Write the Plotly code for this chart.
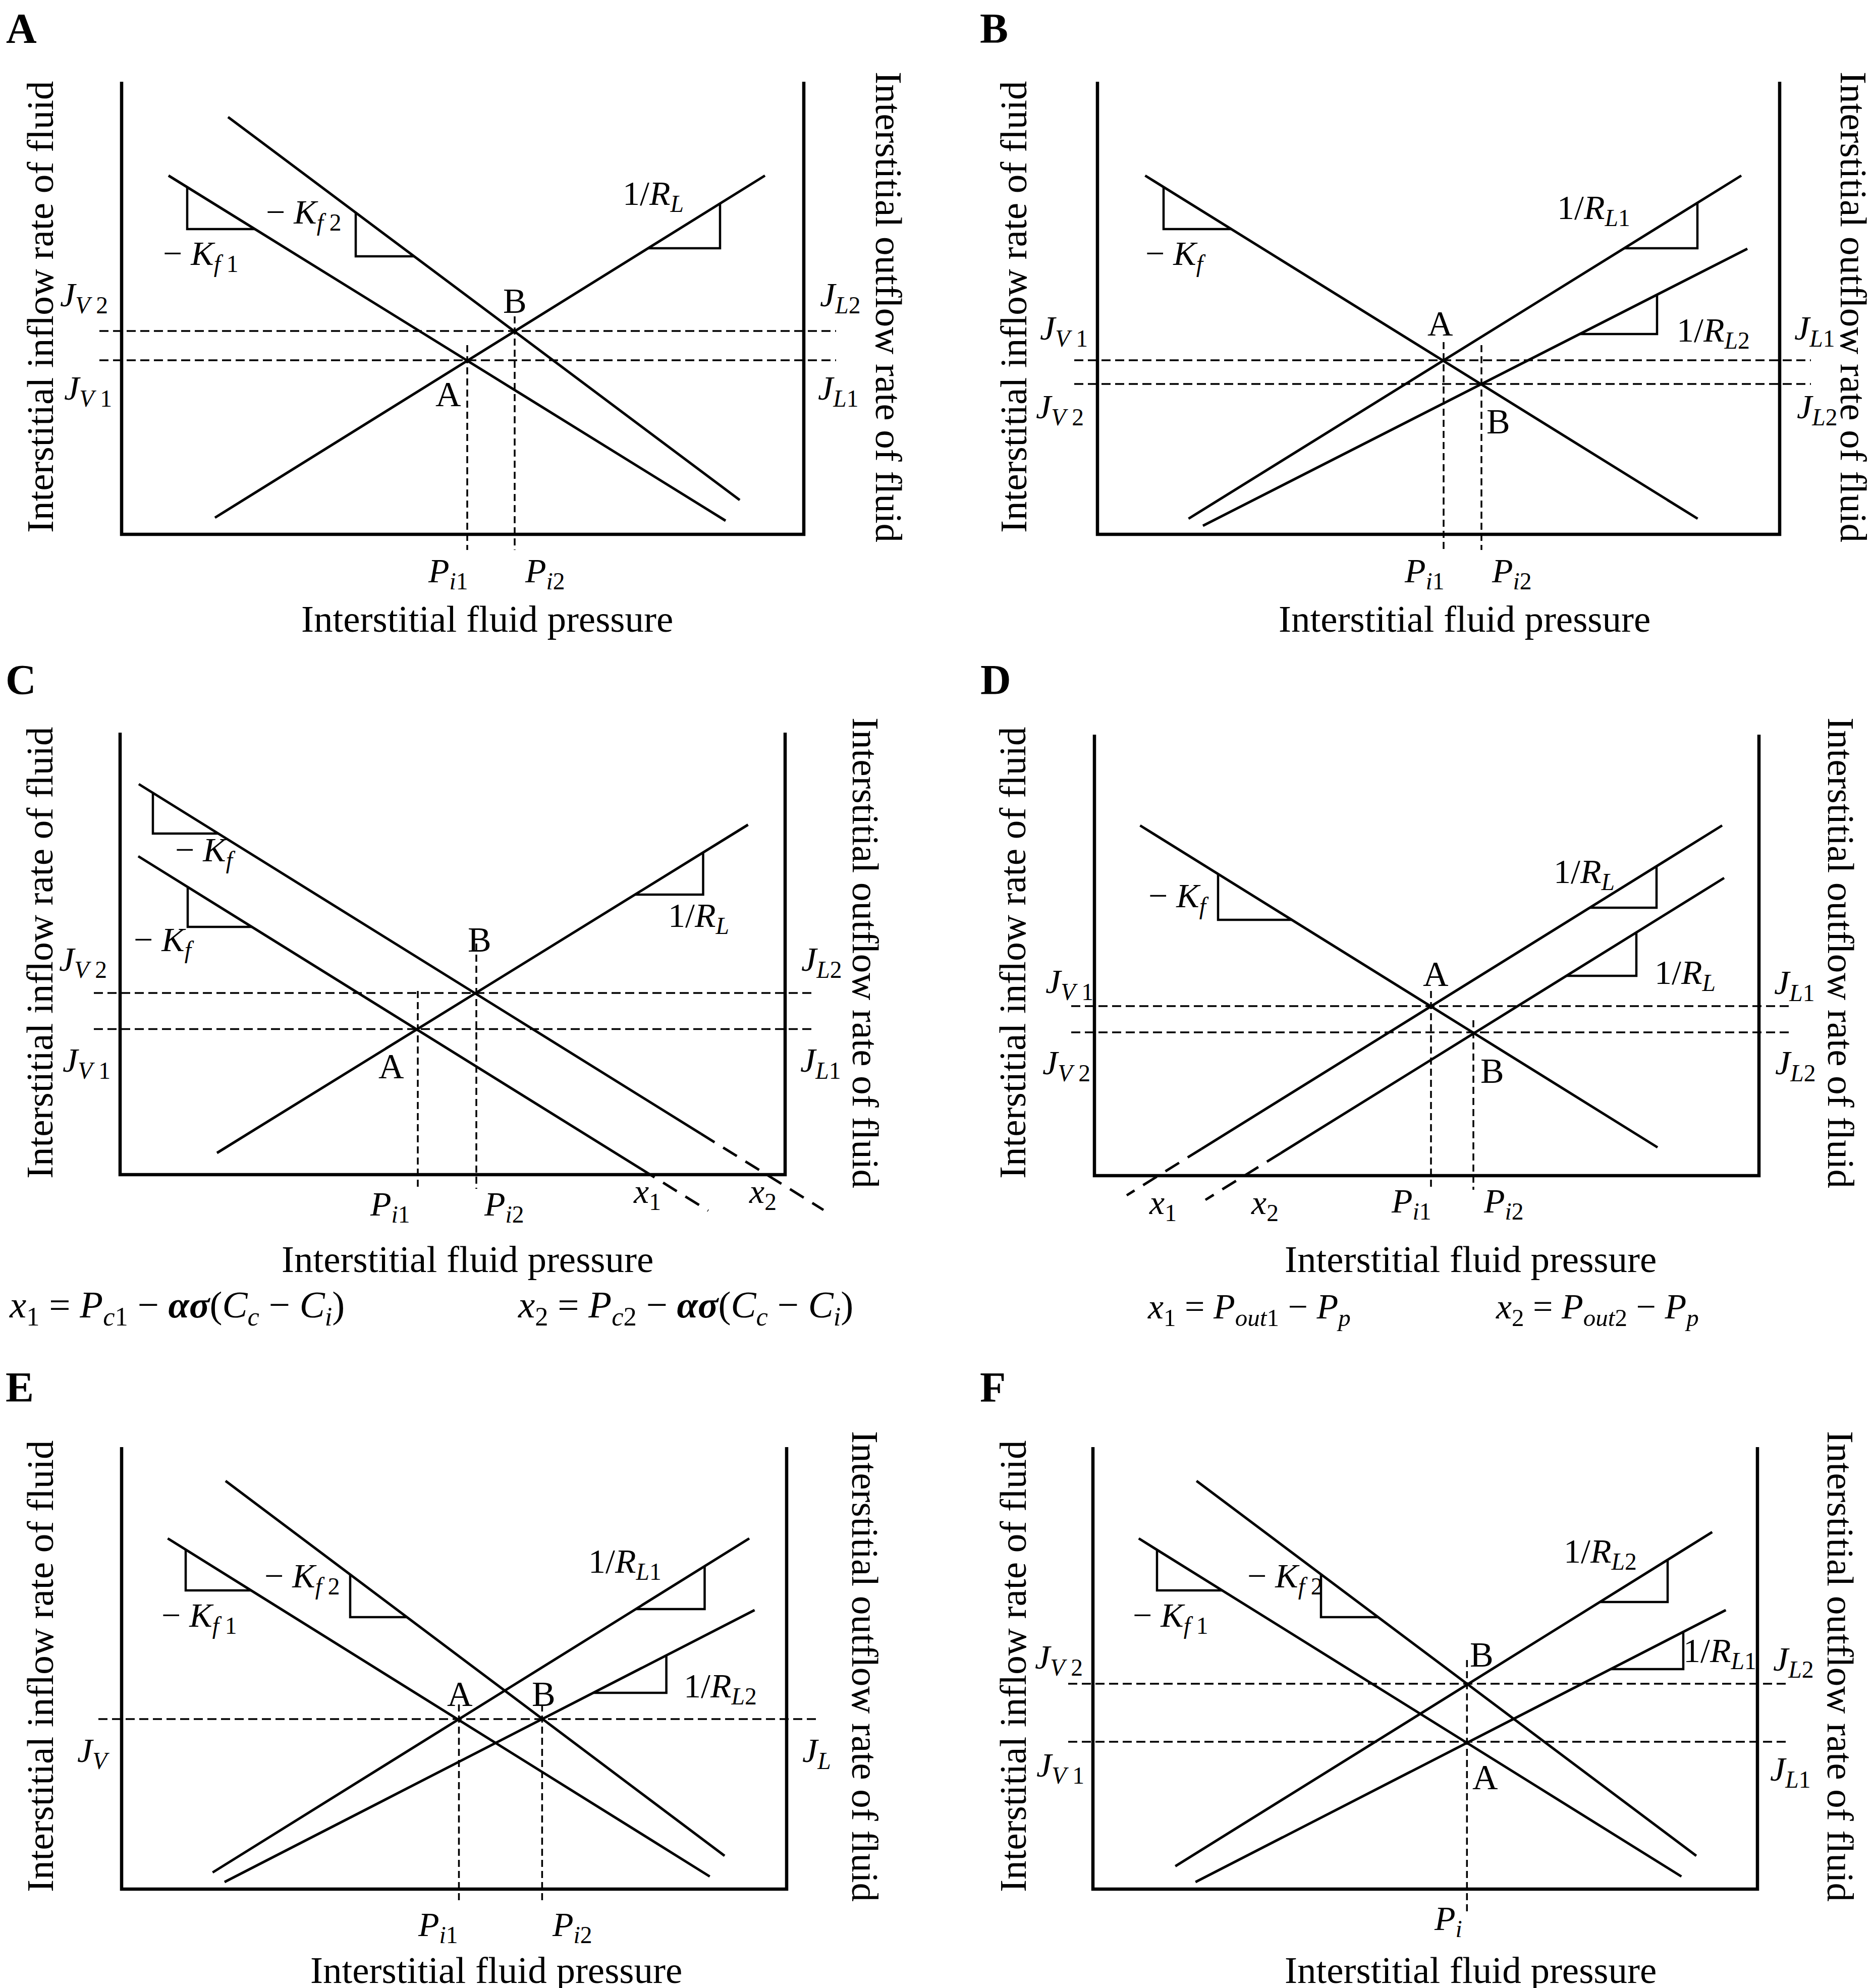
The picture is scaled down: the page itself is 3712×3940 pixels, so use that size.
import plotly.graph_objects as go

FIG_W, FIG_H = 3712, 3940
SERIF = "Liberation Serif, Times New Roman, serif"

X_TITLE = "Interstitial fluid pressure"
Y_LEFT = "Interstitial inflow rate of fluid"
Y_RIGHT = "Interstitial outflow rate of fluid"


def sym(main, it="", num=""):
    """Italic symbol with a subscript (italic letters, upright digits)."""
    s = f"<i>{main}</i>"
    if it or num:
        s += "<sub>" + (f"<i>{it}</i>" if it else "") + num + "</sub>"
    return s


MINUS = "\u2212\u00a0"
KF = MINUS + sym("K", "f")
KF1 = MINUS + sym("K", "f", "\u00a01")
KF2 = MINUS + sym("K", "f", "\u00a02")
RL = "1/" + sym("R", "L")
RL1 = "1/" + sym("R", "L", "1")
RL2 = "1/" + sym("R", "L", "2")
JV, JL = sym("J", "V"), sym("J", "L")
JV1, JV2 = sym("J", "V", "\u00a01"), sym("J", "V", "\u00a02")
JL1, JL2 = sym("J", "L", "1"), sym("J", "L", "2")
PI, PI1, PI2 = sym("P", "i"), sym("P", "i", "1"), sym("P", "i", "2")
X1, X2 = sym("x", "", "1"), sym("x", "", "2")
EQ_C1 = (X1 + " = " + sym("P", "c", "1") + " \u2212 <b><i>\u03b1\u03c3</i></b>("
         + sym("C", "c") + " \u2212 " + sym("C", "i") + ")")
EQ_C2 = (X2 + " = " + sym("P", "c", "2") + " \u2212 <b><i>\u03b1\u03c3</i></b>("
         + sym("C", "c") + " \u2212 " + sym("C", "i") + ")")
EQ_D1 = X1 + " = " + sym("P", "out", "1") + " \u2212 " + sym("P", "p")
EQ_D2 = X2 + " = " + sym("P", "out", "2") + " \u2212 " + sym("P", "p")
EQUATIONS = {EQ_C1: 75, EQ_C2: 75, EQ_D1: 70, EQ_D2: 70}

# ---------------------------------------------------------------------------
# Local coordinates of every panel: origin at the lower left corner of the
# axes box, x = interstitial pressure, y = flow rate (arbitrary units).
# lines: x0, y0, x1, y1 ; slopes: line index, vertical leg x, horizontal leg y
# ---------------------------------------------------------------------------

# Panel A
a_box = [1352, 897]
a_lines = [[93, 711, 1197, 27], [211, 827, 1225, 68], [185, 33, 1275, 711]]
a_flow = [403, 345]
a_flow_span = [-44, 1416]
a_press = [[685, 375], [779, 432]]
a_slopes = [[0, 130, 605], [1, 464, 551], [2, 1186, 567]]
a_text = [[KF1, 157, 545], [KF2, 361, 627], [RL, 1053, 664],
          [JV2, -75, 463], [JV1, -67, 278], [JL2, 1424, 463], [JL1, 1420, 278],
          ["A", 647, 278], ["B", 779, 463], [PI1, 647, -84], [PI2, 839, -84]]

# Panel B
b_box = [1352, 897]
b_lines = [[94.5, 711, 1189.5, 31], [180.5, 31, 1276, 711], [209, 17, 1288, 566]]
b_flow = [345, 298]
b_flow_span = [-46, 1414]
b_press = [[686, 381], [761, 375]]
b_slopes = [[0, 131, 605], [1, 1189, 567], [2, 1109, 397]]
b_text = [[KF, 155, 545], [RL1, 983, 636], [RL2, 1220, 393],
          [JV1, -67, 397], [JV2, -75, 241], [JL1, 1421, 397], [JL2, 1426, 241],
          ["A", 679, 418], ["B", 794, 224], [PI1, 648, -84], [PI2, 821, -84]]

# Panel C
c_box = [1318, 876]
c_lines = [[37, 774, 1394, -70], [36, 631, 1165.6, -71.5], [192, 43, 1244.5, 693.5]]
c_cuts = {0: 1151, 1: 1032}
c_flow = [360, 288.5]
c_flow_span = [-52, 1372]
c_press = [[590, 364], [706, 458]]
c_slopes = [[0, 65, 676], [1, 134, 491], [2, 1155.5, 555]]
c_text = [[KF, 169, 631], [KF, 87, 453], [RL, 1146, 501],
          [JV2, -74, 414], [JV1, -67, 215], [JL2, 1390, 414], [JL1, 1388, 215],
          ["A", 537, 215], ["B", 712, 465], [PI1, 535, -70], [PI2, 761, -70],
          [X1, 1044, -45], [X2, 1273, -45], [EQ_C1, 112, -271], [EQ_C2, 1120, -271]]

# Panel D
d_box = [1317, 874]
d_lines = [[90.5, 694, 1116, 56], [64, -39, 1244, 694], [220, -48, 1248, 590]]
d_cuts = {1: 212, 2: 369}
d_flow = [336, 284]
d_flow_span = [-46, 1379]
d_press = [[667, 366], [751, 308]]
d_slopes = [[0, 245, 507], [1, 1114, 531], [2, 1074, 396]]
d_text = [[KF, 167, 542], [RL, 970, 590], [RL, 1170, 390],
          [JV1, -50, 372], [JV2, -56, 212], [JL1, 1387, 370], [JL2, 1389, 212],
          ["A", 676, 399], ["B", 788, 208], [PI1, 628, -62], [PI2, 811, -62],
          [X1, 135, -65], [X2, 337, -65], [EQ_D1, 306, -273], [EQ_D2, 996, -273]]

# Panel E
e_box = [1318, 876]
e_lines = [[91.4, 695, 1165.6, 25], [206, 809, 1195, 66],
           [180.4, 33, 1244, 695], [204, 14, 1254.5, 553]]
e_flow = [337]
e_flow_span = [-46, 1376]
e_press = [[668.5, 366], [833.4, 366]]
e_slopes = [[0, 127, 592], [1, 453, 539], [2, 1155.5, 555], [3, 1079.6, 389]]
e_text = [[KF1, 154, 531], [KF2, 358, 609], [RL1, 997, 638], [RL2, 1186, 391],
          ["A", 670, 387], ["B", 836, 387], [JV, -56, 263], [JL, 1377, 263],
          [PI1, 627, -82], [PI2, 893, -82]]

# Panel F
f_box = [1317, 876]
f_lines = [[90.8, 695, 1166.3, 25], [205.3, 809, 1195.8, 66],
           [163.3, 45.3, 1227.3, 707.6], [203.3, 14, 1254.3, 553]]
f_flow = [407, 292]
f_flow_span = [-49, 1376]
f_press = [[741.3, 454]]
f_slopes = [[0, 127, 592], [1, 452, 539], [2, 1139, 569], [3, 1170, 436]]
f_text = [[KF1, 154, 531], [KF2, 381, 609], [RL2, 1005, 658], [RL1, 1242, 461],
          ["B", 770, 465], ["A", 777, 222], [JV2, -68, 448], [JV1, -65, 234],
          [JL2, 1388, 444], [JL1, 1382, 226], [PI, 704, -70]]

# axis title positions: x-title x, x-title y, left title x, right title x, mid y
titles = {
    "A": [724, -167, -162, 1521, 451],
    "B": [727, -167, -167, 1499, 451],
    "C": [688, -167, -159, 1477, 440],
    "D": [745, -165, -162, 1479, 442],
    "E": [742, -160, -162, 1474, 442],
    "F": [748, -160, -159, 1482, 442],
}
# panel letter: x centre and top edge (local units, kept inside each axis range)
letters = {"A": [-199, 1051], "B": [-205, 1051], "C": [-197, 1029],
           "D": [-196, 1031], "E": [-202, 1043], "F": [-199, 1043]}

# page cells (x0, y0, x1, y1 in page pixels) and box origin in page pixels
cells = {"A": (0, 0, 1856, 1290), "B": (1856, 0, 3712, 1290),
         "C": (0, 1290, 1856, 2650), "D": (1856, 1290, 3712, 2650),
         "E": (0, 2650, 1856, 3940), "F": (1856, 2650, 3712, 3940)}
origins = {"A": (233, 1051), "B": (2167, 1051), "C": (230, 2320),
           "D": (2161, 2322), "E": (233, 3736), "F": (2158, 3736)}

P_LOW = {"A": -31, "B": -31, "C": -28, "D": -28, "E": -29, "F": -51}


def line_y(seg, x):
    x0, y0, x1, y1 = seg
    return y0 + (y1 - y0) * (x - x0) / (x1 - x0)


def line_x(seg, y):
    x0, y0, x1, y1 = seg
    return x0 + (x1 - x0) * (y - y0) / (y1 - y0)


fig = go.Figure()


def add_line(xs, ys, xa, ya, width, dash="solid"):
    fig.add_trace(go.Scatter(
        x=xs, y=ys, mode="lines", xaxis=xa, yaxis=ya,
        line=dict(color="black", width=width, dash=dash),
        hoverinfo="skip", showlegend=False,
    ))


def note(text, x, y, xa, ya, size, angle=0, yanchor="middle"):
    fig.add_annotation(
        text=text, x=x, y=y, xref=xa, yref=ya, showarrow=False,
        xanchor="center", yanchor=yanchor, textangle=angle,
        font=dict(family=SERIF, size=size, color="black"),
    )


def draw_panel(n, name, box, lines, flow, flow_span, press, slopes, text, cuts=None):
    xa = "x" if n == 1 else f"x{n}"
    ya = "y" if n == 1 else f"y{n}"
    cx0, cy0, cx1, cy1 = cells[name]
    ox, oy = origins[name]
    fig.update_layout(**{
        ("xaxis" if n == 1 else f"xaxis{n}"): dict(
            domain=[cx0 / FIG_W, cx1 / FIG_W], range=[cx0 - ox, cx1 - ox],
            visible=False, fixedrange=True, anchor=ya),
        ("yaxis" if n == 1 else f"yaxis{n}"): dict(
            domain=[1 - cy1 / FIG_H, 1 - cy0 / FIG_H], range=[oy - cy1, oy - cy0],
            visible=False, fixedrange=True, anchor=xa),
    })

    w, h = box
    add_line([0, 0, w, w], [h, 0, 0, h], xa, ya, 6.5)

    for i, seg in enumerate(lines):
        x0, y0, x1, y1 = seg
        if cuts and i in cuts:
            c = cuts[i]
            lo, hi = ((x0, y0), (x1, y1)) if y0 < y1 else ((x1, y1), (x0, y0))
            yc = line_y(seg, c)
            add_line([c, hi[0]], [yc, hi[1]], xa, ya, 5)
            add_line([c, lo[0]], [yc, lo[1]], xa, ya, 5, "32px,20px")
        else:
            add_line([x0, x1], [y0, y1], xa, ya, 5)

    for fy in flow:
        add_line(flow_span, [fy, fy], xa, ya, 3.5, "18px,9px")

    for px, top in press:
        add_line([px, px], [top, P_LOW[name]], xa, ya, 3.5, "14px,8px")

    for i, xv, yh in slopes:
        seg = lines[i]
        add_line([xv, xv, line_x(seg, yh)], [line_y(seg, xv), yh, yh], xa, ya, 4.5)

    for t, x, y in text:
        if t in EQUATIONS:
            size = EQUATIONS[t]
        elif t in ("A", "B"):
            size = 70
        else:
            size = 68
        # a subscript deepens the text box, so lift it to keep the main glyph in place
        if "<sub>" in t:
            y += 8
        note(t, x, y, xa, ya, size)

    tx, ty, lx, rx, my = titles[name]
    note(X_TITLE, tx, ty, xa, ya, 75)
    note(Y_LEFT, lx, my, xa, ya, 75, -90)
    note(Y_RIGHT, rx, my, xa, ya, 75, 90)
    lx_, ly_ = letters[name]
    note(f"<b>{name}</b>", lx_, ly_, xa, ya, 84, yanchor="top")


draw_panel(1, "A", a_box, a_lines, a_flow, a_flow_span, a_press, a_slopes, a_text)
draw_panel(2, "B", b_box, b_lines, b_flow, b_flow_span, b_press, b_slopes, b_text)
draw_panel(3, "C", c_box, c_lines, c_flow, c_flow_span, c_press, c_slopes, c_text, c_cuts)
draw_panel(4, "D", d_box, d_lines, d_flow, d_flow_span, d_press, d_slopes, d_text, d_cuts)
draw_panel(5, "E", e_box, e_lines, e_flow, e_flow_span, e_press, e_slopes, e_text)
draw_panel(6, "F", f_box, f_lines, f_flow, f_flow_span, f_press, f_slopes, f_text)

fig.update_layout(
    width=FIG_W, height=FIG_H,
    margin=dict(l=0, r=0, t=0, b=0),
    paper_bgcolor="white", plot_bgcolor="white",
    showlegend=False,
)

fig.write_html("out.html")
